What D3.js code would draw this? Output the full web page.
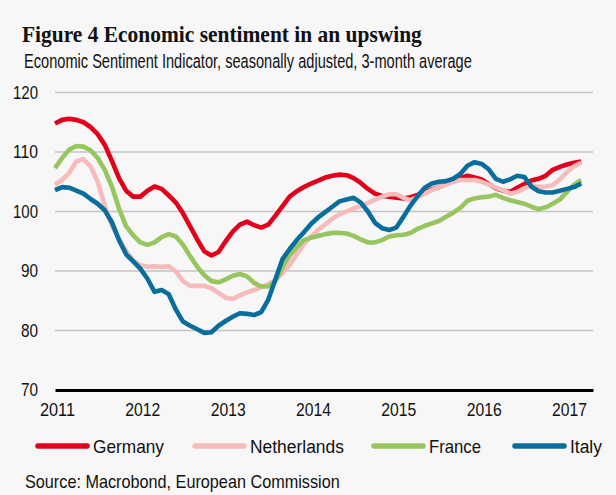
<!DOCTYPE html>
<html>
<head>
<meta charset="utf-8">
<script src="https://cdn.jsdelivr.net/npm/d3@7"></script>
<style>
  html, body { margin: 0; padding: 0; background: #f7f7f7; }
  svg { display: block; }
</style>
</head>
<body>
<div id="chart"></div>
<script>
// Monthly values, Jan 2011 .. Mar 2017 (3-month average ESI)
const startYear = 2011;
const germany = [
  114.8, 115.4, 115.6, 115.4, 115.0, 114.2, 113.0, 111.2, 108.5, 105.6, 103.5, 102.5,
  102.5, 103.5, 104.2, 103.8, 102.7, 101.5, 99.7, 97.5, 95.3, 93.3, 92.6, 93.2,
  95.0, 96.6, 97.8, 98.3, 97.7, 97.3, 97.8, 99.3, 100.9, 102.5, 103.4, 104.1,
  104.7, 105.2, 105.7, 106.0, 106.2, 106.1, 105.6, 104.8, 103.8, 103.0, 102.6, 102.5,
  102.3, 102.2, 102.4, 102.8, 103.2, 103.7, 104.1, 104.6, 105.1, 105.6, 106.0, 105.7,
  105.4, 104.6, 103.9, 103.5, 103.3, 104.0, 104.6, 105.2, 105.5, 106.0, 107.0, 107.5,
  107.9, 108.2, 108.4
];
const netherlands = [
  104.5, 105.3, 106.5, 108.4, 108.8, 107.6, 105.0, 101.0, 97.6, 95.4, 93.4, 91.8,
  91.0, 90.7, 90.8, 90.7, 90.8, 89.9, 88.3, 87.5, 87.5, 87.5, 87.1, 86.3,
  85.5, 85.3, 85.9, 86.4, 86.8, 87.3, 87.8, 88.5, 89.6, 91.0, 92.8, 94.5,
  95.8, 96.9, 97.8, 98.8, 99.5, 100.0, 100.5, 100.9, 101.4, 102.0, 102.5, 102.9,
  102.9, 102.3, 101.9, 102.4, 103.0, 103.6, 104.1, 104.5, 105.0, 105.3, 105.3, 105.3,
  105.0, 104.5, 104.0, 103.6, 103.0, 103.3, 103.9, 104.4, 104.1, 104.2, 104.4, 105.4,
  106.6, 107.6, 108.2
];
const france = [
  107.3, 109.0, 110.4, 111.0, 110.9, 110.3, 109.0, 107.0, 104.2, 100.5, 97.5, 96.0,
  94.8, 94.4, 94.8, 95.7, 96.2, 95.8, 94.4, 92.5, 90.7, 89.3, 88.3, 88.1,
  88.6, 89.2, 89.5, 89.1, 88.0, 87.4, 87.4, 88.3, 90.6, 92.6, 94.0, 95.2,
  95.6, 95.9, 96.2, 96.4, 96.4, 96.3, 95.9, 95.3, 94.8, 94.8, 95.2, 95.8,
  96.0, 96.1, 96.4, 97.1, 97.6, 98.0, 98.4, 99.1, 99.8, 100.6, 101.8, 102.2,
  102.4, 102.5, 102.8, 102.3, 101.9, 101.6, 101.3, 100.8, 100.4, 100.7, 101.3, 102.0,
  103.3, 104.5, 105.3
];
const italy = [
  103.6, 104.1, 104.0, 103.5, 103.0, 102.1, 101.3, 100.2, 98.2, 95.2, 92.8, 91.6,
  90.4, 88.7, 86.5, 86.8, 86.1, 83.5, 81.5, 80.8, 80.2, 79.6, 79.7, 80.8,
  81.6, 82.3, 82.9, 82.8, 82.6, 83.1, 85.2, 88.6, 92.0, 93.7, 95.2, 96.5,
  97.9, 99.0, 99.9, 100.8, 101.7, 102.0, 102.3, 101.5, 100.0, 98.1, 97.2, 96.9,
  97.3, 99.1, 101.0, 102.6, 104.0, 104.7, 105.0, 105.1, 105.5, 106.3, 107.7, 108.3,
  108.0, 107.1, 105.5, 105.0, 105.4, 106.0, 105.8, 104.2, 103.4, 103.2, 103.2, 103.5,
  103.8, 104.1, 104.7
];
const seriesNames = ['Germany', 'Netherlands', 'France', 'Italy'];
const seriesValues = [germany, netherlands, france, italy];
const seriesColors = ['#e2001a', '#f6bcbb', '#97c65f', '#0a6e9c'];
const yTicks = [70, 80, 90, 100, 110, 120];
const xTicks = [2011, 2012, 2013, 2014, 2015, 2016, 2017];

const width = 616, height = 495;
const margin = { left: 55, right: 23, top: 92.5, bottom: 105 };

const svg = d3.select('#chart').append('svg')
  .attr('width', width)
  .attr('height', height);

svg.append('rect').attr('width', width).attr('height', height).attr('fill', '#f7f7f7');

const narrow = '"Liberation Sans Narrow", "Arial Narrow", "Liberation Sans", Arial, sans-serif';

// squeeze a tick label to the width measured in the reference
function fit(sel, w) {
  sel.attr('textLength', w).attr('lengthAdjust', 'spacingAndGlyphs');
  return sel;
}

// free-standing text, condensed horizontally with a transform
function label(x0, y0, str, w, family, size, weight) {
  const t = svg.append('text')
    .attr('x', 0).attr('y', 0)
    .style('font-family', family)
    .style('font-size', size + 'px')
    .style('font-weight', weight || 'normal')
    .style('fill', '#111')
    .text(str);
  const len = t.node().getComputedTextLength();
  const sx = len > 0 ? w / len : 1;
  t.attr('transform', `translate(${x0}, ${y0}) scale(${sx.toFixed(4)}, 1)`);
  return t;
}

// title block
label(22, 42, 'Figure 4 Economic sentiment in an upswing', 400,
  '"Liberation Serif", "DejaVu Serif", serif', 24, 'bold');
label(24, 68, 'Economic Sentiment Indicator, seasonally adjusted, 3-month average', 448,
  narrow, 19.5);

// scales
const x = d3.scaleLinear()
  .domain([2011, 2017.305])
  .range([margin.left, width - margin.right]);

const y = d3.scaleLinear()
  .domain([70, 120])
  .range([height - margin.bottom, margin.top]);

// gridlines
svg.append('g')
  .selectAll('line')
  .data(yTicks.filter(d => d > 70))
  .join('line')
  .attr('x1', x.range()[0]).attr('x2', x.range()[1])
  .attr('y1', d => y(d)).attr('y2', d => y(d))
  .attr('stroke', '#c4c4c4')
  .attr('stroke-width', 1.5);

// y axis labels
const yAxis = svg.append('g')
  .attr('transform', `translate(${margin.left}, 0)`)
  .call(d3.axisLeft(y).tickValues(yTicks).tickSize(0).tickPadding(17));
yAxis.select('.domain').remove();
yAxis.selectAll('text')
  .style('font-family', narrow)
  .style('font-size', '18.5px')
  .style('fill', '#111')
  .each(function(d) { fit(d3.select(this), String(d).length === 3 ? 25 : 17); });

// lines
const line = d3.line()
  .x((d, i) => x(startYear + i / 12))
  .y(d => y(d))
  .curve(d3.curveLinear);

seriesValues.forEach((vals, k) => {
  svg.append('path')
    .datum(vals)
    .attr('d', line)
    .attr('fill', 'none')
    .attr('stroke', seriesColors[k])
    .attr('stroke-width', 4.6)
    .attr('stroke-linejoin', 'round')
    .attr('stroke-linecap', 'butt');
});

// x axis (black base line at 70)
const xAxis = svg.append('g')
  .attr('transform', `translate(0, ${y(70)})`)
  .call(d3.axisBottom(x).tickValues(xTicks).tickFormat(d3.format('d')).tickSize(0).tickPadding(13));
xAxis.select('.domain')
  .attr('stroke', '#000')
  .attr('stroke-width', 3.2);
xAxis.selectAll('text')
  .attr('dx', '2')
  .style('font-family', narrow)
  .style('font-size', '18.5px')
  .style('fill', '#111')
  .each(function() { fit(d3.select(this), 35); });

// legend
const legendX = [36, 193, 372, 513];
const legendW = [71, 94, 52, 32];
seriesNames.forEach((name, k) => {
  svg.append('line')
    .attr('x1', legendX[k] + 2).attr('x2', legendX[k] + 51)
    .attr('y1', 446).attr('y2', 446)
    .attr('stroke', seriesColors[k])
    .attr('stroke-width', 5.5)
    .attr('stroke-linecap', 'round');
  label(legendX[k] + 57, 453, name, legendW[k], narrow, 19);
});

// source
label(25, 488, 'Source: Macrobond, European Commission', 315, narrow, 18);
</script>
</body>
</html>
